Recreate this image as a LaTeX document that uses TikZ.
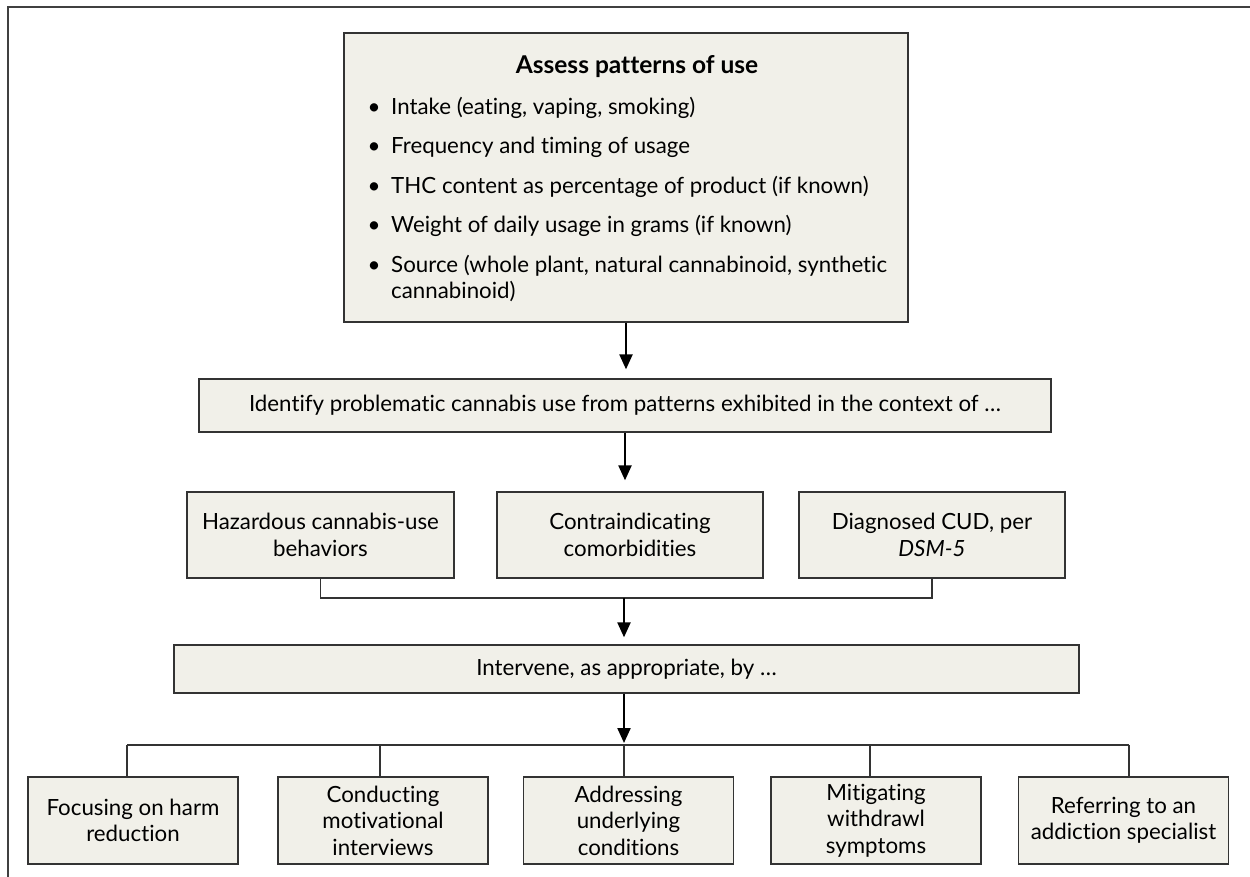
\documentclass[tikz,border=0pt]{standalone}
\usepackage{fontspec}
\setmainfont{Lato}[Ligatures=NoCommon]
\usetikzlibrary{arrows.meta,calc}
\definecolor{boxfill}{HTML}{F1F0E9}
\definecolor{boxline}{HTML}{333333}
\begin{document}
\begin{tikzpicture}[x=1pt,y=-1pt,
  box/.style={draw=boxline, line width=1.3pt, fill=boxfill, inner sep=0pt, align=center, font=\fontsize{22.3}{26.5}\selectfont},
  conn/.style={draw=boxline, line width=1.2pt},
  arr/.style={draw=black, line width=2.2pt, -{Triangle[length=15pt,width=13pt]}},
  txt/.style={inner sep=0pt, font=\fontsize{22.3}{26}\selectfont},
]
\useasboundingbox (0,0) rectangle (1250,876);
\clip (0,0) rectangle (1250,876);
\draw[line width=1.6pt, draw=black!75] (8,7) rectangle (1280,900);

% top box
\node[box, minimum width=564pt, minimum height=289pt] (assess) at (626,177.5) {};
\node[txt, anchor=base, font=\fontsize{24.5}{26}\selectfont\bfseries] (title) at (637,73) {Assess patterns of use};
\node[txt, anchor=base] (d1) at (374,114) {•};
\node[txt, anchor=base west] (i1) at (391,114) {Intake (eating, vaping, smoking)};
\node[txt, anchor=base] (d2) at (374,153.5) {•};
\node[txt, anchor=base west] (i2) at (391,153.5) {Frequency and timing of usage};
\node[txt, anchor=base] (d3) at (374,193) {•};
\node[txt, anchor=base west] (i3) at (391,193) {THC content as percentage of product (if known)};
\node[txt, anchor=base] (d4) at (374,232.5) {•};
\node[txt, anchor=base west] (i4) at (391,232.5) {Weight of daily usage in grams (if known)};
\node[txt, anchor=base] (d5) at (374,272) {•};
\node[txt, anchor=base west] (i5) at (391,272) {Source (whole plant, natural cannabinoid, synthetic};
\node[txt, anchor=base west] (i5b) at (391,298.5) {cannabinoid)};

% identify
\node[box, minimum width=852pt, minimum height=53pt] (ident) at (625,405.5) {Identify problematic cannabis use from patterns exhibited in the context of …};

% middle row
\node[box, minimum width=267pt, minimum height=86pt] (m1) at (320.5,535) {Hazardous cannabis-use\\behaviors};
\node[box, minimum width=266pt, minimum height=86pt] (m2) at (630,535) {Contraindicating\\comorbidities};
\node[box, minimum width=266pt, minimum height=86pt] (m3) at (932,535) {Diagnosed CUD, per\\\textit{DSM-5}};

% intervene
\node[box, minimum width=905pt, minimum height=48pt] (interv) at (626.5,669) {Intervene, as appropriate, by …};

% bottom row
\node[box, minimum width=210pt, minimum height=87pt] (b1) at (133,820.5) {Focusing on harm\\reduction};
\node[box, minimum width=210pt, minimum height=87pt] (b2) at (383,820.5) {Conducting\\motivational\\interviews};
\node[box, minimum width=210pt, minimum height=87pt] (b3) at (628.5,820.5) {Addressing\\underlying\\conditions};
\node[box, minimum width=210pt, minimum height=87pt] (b4) at (876,820.5) {Mitigating\\withdrawl\\symptoms};
\node[box, minimum width=210pt, minimum height=87pt] (b5) at (1123.5,820.5) {Referring to an\\addiction specialist};

% connectors
\draw[arr, shorten >=9pt] (assess.south) -- (assess.south |- ident.north);
\draw[arr, shorten >=11pt] (ident.south) -- (ident.south |- m2.north);

\coordinate (j) at (624,598);
\draw[conn] (m1.south) -- (m1.south |- j) -- (m3.south |- j) -- (m3.south);
\draw[arr, shorten >=7pt] (j) -- (j |- interv.north);

\coordinate (k) at (624,745);
\draw[arr, shorten >=2pt] (interv.south -| k) -- (k);

\coordinate (h1) at (127,745);
\coordinate (h2) at (380,745);
\coordinate (h3) at (624,745);
\coordinate (h4) at (870,745);
\coordinate (h5) at (1129,745);
\draw[conn] (h1) -- (h5);
\draw[conn] (h1) -- (h1 |- b1.north);
\draw[conn] (h2) -- (h2 |- b2.north);
\draw[conn] (h3) -- (h3 |- b3.north);
\draw[conn] (h4) -- (h4 |- b4.north);
\draw[conn] (h5) -- (h5 |- b5.north);
\end{tikzpicture}
\end{document}
